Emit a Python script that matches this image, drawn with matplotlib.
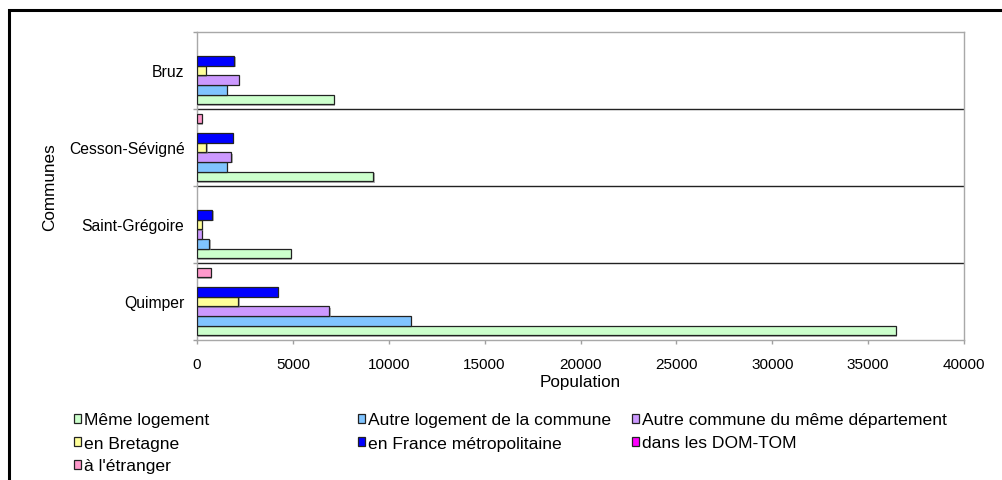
import matplotlib
matplotlib.use("Agg")
import matplotlib.pyplot as plt
import numpy as np
from matplotlib.patches import Rectangle
import matplotlib.patheffects as pe

plt.rcParams['font.family'] = ['Liberation Sans', 'DejaVu Sans']

communes = ["Quimper", "Saint-Grégoire", "Cesson-Sévigné", "Bruz"]
series_names = ["Même logement", "Autre logement de la commune",
                "Autre commune du même département", "en Bretagne",
                "en France métropolitaine", "dans les DOM-TOM", "à l'étranger"]
meme_logement = [36450, 4900, 9200, 7120]
autre_logement = [11160, 640, 1560, 1545]
autre_commune = [6890, 260, 1790, 2170]
en_bretagne = [2150, 260, 485, 470]
en_france = [4220, 800, 1860, 1950]
dom_tom = [0, 0, 0, 0]
etranger = [710, 0, 260, 0]
colors = ["#CCFFCC", "#80C4FF", "#CC99FF", "#FFFF99", "#0000FF", "#FF00FF", "#FF99CC"]
xticks = [0, 5000, 10000, 15000, 20000, 25000, 30000, 35000, 40000]

values = [meme_logement, autre_logement, autre_commune, en_bretagne,
          en_france, dom_tom, etranger]

W, H = 1002, 481
fig = plt.figure(figsize=(W / 100, H / 100), dpi=100)
ax = fig.add_axes([197 / W, 1 - 341 / H, (964 - 197) / W, (341 - 33) / H])

y = np.arange(len(communes))
bh = 0.125
shadow = [pe.SimplePatchShadow(offset=(1.0, -1.0), shadow_rgbFace="#808080", alpha=0.6),
          pe.Normal()]
for i, (vals, c, name) in enumerate(zip(values, colors, series_names)):
    lws = [0.9 if v > 0 else 0 for v in vals]
    b = ax.barh(y + (i - 3) * bh, vals, height=bh, color=c, edgecolor="#222222",
                linewidth=lws, label=name, zorder=3)
    for r, v in zip(b.patches, vals):
        if v > 0:
            r.set_path_effects(shadow)

ax.set_xlim(0, 40000)
ax.set_ylim(-0.5, 3.5)
ax.set_xticks(xticks)
ax.set_xticklabels([str(t) for t in xticks], fontsize=11)
ax.set_yticks(y)
ax.set_yticklabels(communes, fontsize=11.3)
ax.set_yticks(np.arange(-0.5, 4, 1), minor=True)
ax.tick_params(axis='y', which='major', length=0, pad=9)
ax.tick_params(axis='y', which='minor', length=3, color="#A0A0A0", width=1)
ax.tick_params(axis='x', which='major', length=3, color="#A0A0A0", width=1, pad=9)
for yy in [0.5, 1.5, 2.5]:
    ax.axhline(yy, color="#222222", linewidth=1.0, zorder=2)
for s in ax.spines.values():
    s.set_color("#A8A8A8")
    s.set_linewidth(1.0)

ax.set_xlabel("Population", fontsize=12.3)
ax.xaxis.set_label_coords(0.5, -0.112)
ax.set_ylabel("Communes", fontsize=12.3)
ax.yaxis.set_label_coords(-0.1825, 0.5)

# legend: three columns, filled row by row
col_x = [74, 358, 632]
row_y = [421, 444, 467]
for k in range(len(series_names)):
    r, c = divmod(k, 3)
    h = ax.barh([0], [1], color=colors[k], edgecolor="#222222", linewidth=0.9)[0]
    h.remove()
    fig.legend([h], [series_names[k]], loc="center left",
               bbox_to_anchor=(col_x[c] / W, 1 - row_y[r] / H),
               frameon=False, fontsize=12.6, handlelength=0.4, handleheight=0.4,
               handletextpad=0.2, borderpad=0, borderaxespad=0)

fig.patches.append(Rectangle((8.8 / W, -0.05), 1.1, 1 - 10.8 / H + 0.05,
                             transform=fig.transFigure, fill=False,
                             edgecolor="black", linewidth=2.2))

fig.savefig("out.png", dpi=100)
